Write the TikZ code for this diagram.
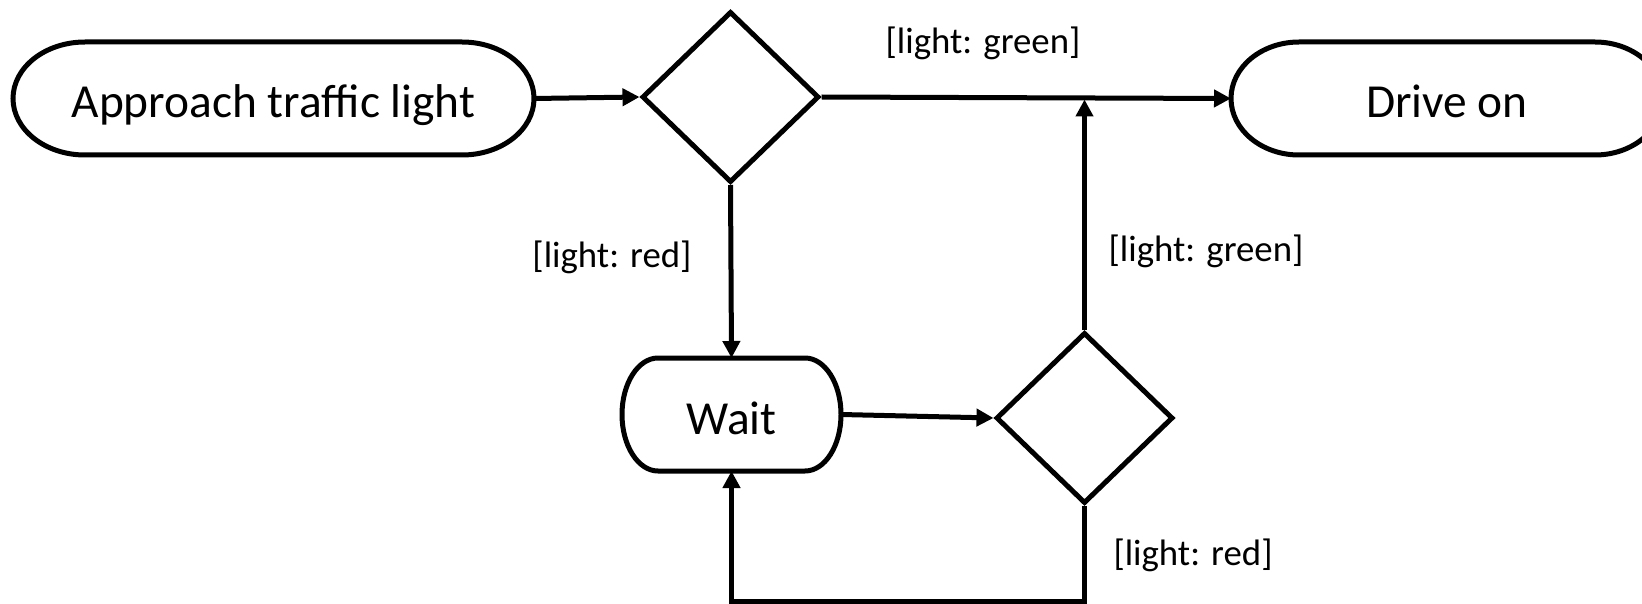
\documentclass[tikz,border=0pt]{standalone}
\usepackage{fontspec}
\setmainfont{Carlito}
\usetikzlibrary{shapes.geometric,arrows.meta}

\tikzset{
  flow/.style={line width=2.5pt, -{Triangle[length=8.5pt,width=8.5pt]}},
  terminal/.style={minimum height=56.5pt, inner sep=0pt, outer sep=0pt,
    text height=20pt, text depth=0.5pt, font=\fontsize{23.7}{28}\selectfont},
  decision/.style={draw, diamond, line width=2.5pt, minimum width=88.5pt,
    minimum height=85.5pt, inner sep=0pt},
  guard/.style={inner sep=0pt, font=\fontsize{18.4}{22}\selectfont},
}

\begin{document}
\begin{tikzpicture}[x=0.5pt,y=-0.5pt]
  \path[use as bounding box, clip] (0,0) rectangle (1642,604);
  % actions and decisions
  \node[terminal, minimum width=260.5pt] (approach) at (273.5,98.5) {Approach traffic light};
  \node[decision] (check) at (730.5,97) {};
  \node[terminal, minimum width=216pt] (drive) at (1447,98.5) {Drive on};
  \node[terminal, minimum width=109.5pt] (wait) at (731.5,414.5) {Wait};
  \node[decision] (recheck) at (1084.5,418) {};
  % terminator outlines
  \foreach \n/\r in {approach/36pt, drive/34pt, wait/18pt}
    \draw[line width=2.5pt] ([xshift=\r]\n.north west) -- ([xshift=-\r]\n.north east)
      arc[start angle=90, end angle=-90, x radius=\r, y radius=28.25pt]
      -- ([xshift=\r]\n.south west)
      arc[start angle=270, end angle=90, x radius=\r, y radius=28.25pt] -- cycle;
  % guards
  \node[guard] (greentop) at (983,43) {[light: green]};
  \node[guard] (greenright) at (1206,251) {[light: green]};
  \node[guard] (redleft) at (612,257) {[light: red]};
  \node[guard] (redbottom) at (1193,555) {[light: red]};
  % transitions
  \coordinate (merge) at (recheck.north |- check.east);
  \coordinate (loop) at (1084.5,601);
  \draw[flow] (approach.east) -- (check.west);
  \draw[flow] (check.east) -- (drive.west);
  \draw[flow] (check.south) -- (wait.north);
  \draw[flow] (wait.east) -- (recheck.west);
  \draw[flow, shorten >=1.25pt] (recheck.north) -- (merge);
  \draw[flow] (recheck.south) -- (loop) -| (wait.south);
\end{tikzpicture}
\end{document}
